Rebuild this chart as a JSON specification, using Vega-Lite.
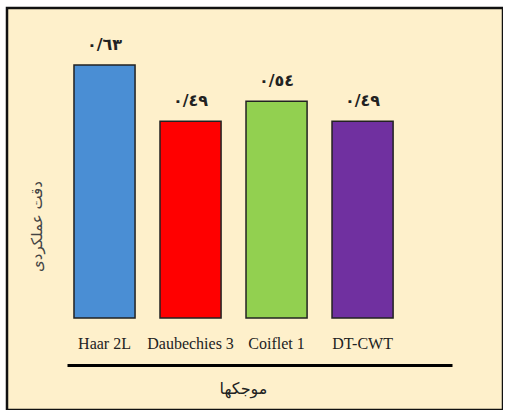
{
  "$schema": "https://vega.github.io/schema/vega-lite/v6.json",
  "width": 496,
  "height": 402,
  "autosize": "none",
  "padding": {"left": 7, "top": 8, "right": 0, "bottom": 0},
  "background": "white",
  "config": {
    "view": {"fill": "#FEF0CB", "stroke": "#111111", "strokeWidth": 2.5}
  },
  "data": {
    "values": [
      {"wavelet": "Haar 2L", "value": 0.63, "label": "٠/٦٣"},
      {"wavelet": "Daubechies 3", "value": 0.49, "label": "٠/٤٩"},
      {"wavelet": "Coiflet 1", "value": 0.54, "label": "٠/٥٤"},
      {"wavelet": "DT-CWT", "value": 0.49, "label": "٠/٤٩"}
    ]
  },
  "encoding": {
    "x": {
      "field": "wavelet",
      "type": "nominal",
      "sort": null,
      "scale": {"range": [60, 445], "paddingInner": 0.29, "paddingOuter": 0.383, "align": 0.106},
      "axis": {
        "title": "موجکها",
        "titleFont": "DejaVu Sans",
        "titleFontSize": 16,
        "titleFontWeight": "normal",
        "titleColor": "#222222",
        "titleX": 236,
        "titleY": 23,
        "titleBaseline": "middle",
        "labelAngle": 0,
        "labelFont": "Liberation Serif",
        "labelFontSize": 16,
        "labelColor": "#222222",
        "labelBaseline": "middle",
        "labelPadding": -22,
        "ticks": false,
        "tickSize": 0,
        "domain": true,
        "domainColor": "#000000",
        "domainWidth": 3,
        "offset": -45,
        "grid": false
      }
    },
    "y": {
      "field": "value",
      "type": "quantitative",
      "scale": {"domain": [0, 0.7], "range": [310, 29], "nice": false},
      "axis": {
        "title": "دقت عملکردی",
        "titleFont": "DejaVu Sans",
        "titleFontSize": 15,
        "titleFontWeight": "normal",
        "titleColor": "#444444",
        "titleAngle": -90,
        "titleX": 29,
        "titleY": 218,
        "titleAlign": "center",
        "titleBaseline": "middle",
        "domain": false,
        "ticks": false,
        "labels": false,
        "grid": false
      }
    }
  },
  "layer": [
    {
      "mark": {"type": "bar", "stroke": "#222222", "strokeWidth": 1.5},
      "encoding": {
        "color": {
          "field": "wavelet",
          "type": "nominal",
          "scale": {
            "domain": ["Haar 2L", "Daubechies 3", "Coiflet 1", "DT-CWT"],
            "range": ["#4A8ED4", "#FF0000", "#92D050", "#7030A0"]
          },
          "legend": null
        }
      }
    },
    {
      "mark": {"type": "text", "dy": -20, "font": "DejaVu Sans", "fontSize": 16, "fontWeight": "bold", "color": "#222222", "baseline": "middle"},
      "encoding": {
        "text": {"field": "label", "type": "nominal"}
      }
    }
  ]
}
